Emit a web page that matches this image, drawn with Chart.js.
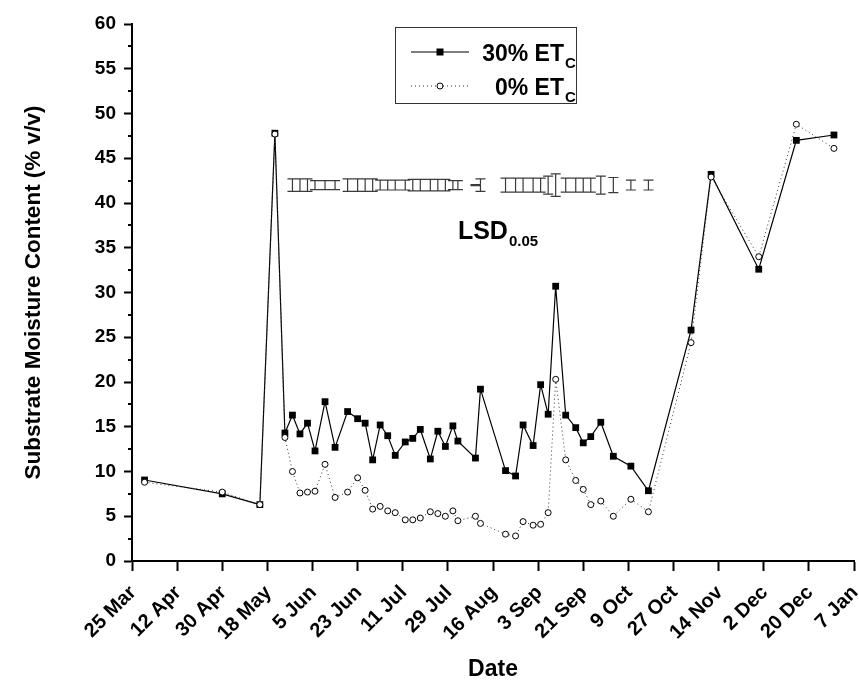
<!DOCTYPE html>
<html>
<head>
<meta charset="utf-8">
<title>Substrate moisture</title>
<script src="https://cdn.jsdelivr.net/npm/chart.js@4.4.0/dist/chart.umd.min.js"></script>
<style>
  html, body { margin: 0; padding: 0; background: #fff; }
  #wrap { width: 859px; height: 680px; }
</style>
</head>
<body>
<div id="wrap"><canvas id="moisture-chart" width="859" height="680"></canvas></div>
<script>
// sampling dates (season runs from 25 Mar into January)
const startDate = '2009-03-25';
const sampleDates = [
  '2009-03-30', '2009-04-30', '2009-05-15', '2009-05-21', '2009-05-25', '2009-05-28',
  '2009-05-31', '2009-06-03', '2009-06-06', '2009-06-10', '2009-06-14', '2009-06-19',
  '2009-06-23', '2009-06-26', '2009-06-29', '2009-07-02', '2009-07-05', '2009-07-08',
  '2009-07-12', '2009-07-15', '2009-07-18', '2009-07-22', '2009-07-25', '2009-07-28',
  '2009-07-31', '2009-08-02', '2009-08-09', '2009-08-11', '2009-08-21', '2009-08-25',
  '2009-08-28', '2009-09-01', '2009-09-04', '2009-09-07', '2009-09-10', '2009-09-14',
  '2009-09-18', '2009-09-21', '2009-09-24', '2009-09-28', '2009-10-03', '2009-10-10',
  '2009-10-17', '2009-11-03', '2009-11-11', '2009-11-30', '2009-12-15', '2009-12-30'
];

// substrate moisture, % v/v
const et30 = [
  9.05, 7.5, 6.3, 47.8, 14.3, 16.3,
  14.2, 15.4, 12.3, 17.8, 12.7, 16.7,
  15.9, 15.4, 11.3, 15.2, 14.0, 11.8,
  13.3, 13.7, 14.7, 11.4, 14.5, 12.8,
  15.1, 13.4, 11.5, 19.2, 10.1, 9.5,
  15.2, 12.9, 19.7, 16.4, 30.7, 16.3,
  14.9, 13.2, 13.9, 15.5, 11.7, 10.6,
  7.85, 25.8, 43.2, 32.6, 47.0, 47.6
];
const et0 = [
  8.8, 7.7, 6.3, 47.7, 13.8, 10.0,
  7.6, 7.7, 7.8, 10.8, 7.1, 7.7,
  9.3, 7.9, 5.8, 6.1, 5.6, 5.4,
  4.6, 4.6, 4.8, 5.5, 5.3, 5.0,
  5.6, 4.5, 5.0, 4.2, 3.0, 2.8,
  4.4, 4.0, 4.1, 5.4, 20.3, 11.3,
  9.0, 8.0, 6.3, 6.7, 5.0, 6.9,
  5.5, 24.4, 42.9, 34.0, 48.8, 46.1
];

// LSD(0.05) for each date, drawn as bars around lsdLevel
const lsd = [
  null, null, null, null, null, 1.4,
  1.4, 1.4, 1.0, 1.0, 1.0, 1.4,
  1.4, 1.4, 1.4, 1.1, 1.1, 1.1,
  1.1, 1.3, 1.3, 1.3, 1.3, 1.3,
  1.0, 1.0, 0.1, 1.4, 1.55, 1.55,
  1.55, 1.55, 1.55, 2.0, 2.5, 1.55,
  1.55, 1.55, 1.55, 2.0, 1.7, 1.1,
  1.1, null, null, null, null, null
];
const lsdLevel = 42;

const tickLabels = [
  '25 Mar', '12 Apr', '30 Apr', '18 May', '5 Jun', '23 Jun', '11 Jul', '29 Jul', '16 Aug',
  '3 Sep', '21 Sep', '9 Oct', '27 Oct', '14 Nov', '2 Dec', '20 Dec', '7 Jan'
];
const tickStep = 18;

const FONT = 'Arial, "Liberation Sans", Helvetica, sans-serif';
const DAY = 86400000;
const dayNums = sampleDates.map(d => Math.round((Date.parse(d) - Date.parse(startDate)) / DAY));

function drawSubText(ctx, x, y, main, sub, size, subSize, align) {
  ctx.font = `bold ${size}px ${FONT}`;
  const w = ctx.measureText(main).width;
  const left = align === 'right' ? x - w : x;
  ctx.textAlign = 'left';
  ctx.textBaseline = 'alphabetic';
  ctx.fillText(main, left, y);
  ctx.font = `bold ${subSize}px ${FONT}`;
  ctx.fillText(sub, left + w + 1, y + subSize * 0.45);
}

// LSD bars, minor ticks, LSD label and the legend box
const extras = {
  id: 'extras',
  afterDraw(chart) {
    const { ctx, scales: { x, y }, chartArea } = chart;
    ctx.save();

    // minor ticks on the y axis
    ctx.strokeStyle = '#000';
    ctx.lineWidth = 2;
    ctx.beginPath();
    for (let v = 2.5; v < 60; v += 5) {
      const py = Math.round(y.getPixelForValue(v));
      ctx.moveTo(chartArea.left - 4, py);
      ctx.lineTo(chartArea.left, py);
    }
    ctx.stroke();

    // LSD bars
    ctx.strokeStyle = '#3a3a3a';
    ctx.lineWidth = 1.2;
    ctx.beginPath();
    lsd.forEach((v, i) => {
      if (v == null) return;
      const px = x.getPixelForValue(dayNums[i]);
      const top = y.getPixelForValue(lsdLevel + v / 2);
      const bot = y.getPixelForValue(lsdLevel - v / 2);
      ctx.moveTo(px, top); ctx.lineTo(px, bot);
      ctx.moveTo(px - 5, top); ctx.lineTo(px + 5, top);
      ctx.moveTo(px - 5, bot); ctx.lineTo(px + 5, bot);
    });
    ctx.stroke();

    ctx.fillStyle = '#000';
    drawSubText(ctx, x.getPixelForValue(130), y.getPixelForValue(36), 'LSD', '0.05', 25, 15, 'left');

    // legend
    ctx.strokeStyle = '#333';
    ctx.lineWidth = 1;
    ctx.strokeRect(395.5, 27.5, 181, 76);

    ctx.strokeStyle = '#000';
    ctx.lineWidth = 1.2;
    ctx.beginPath();
    ctx.moveTo(411, 52); ctx.lineTo(469, 52);
    ctx.stroke();
    ctx.fillRect(436.5, 48.5, 7, 7);

    ctx.strokeStyle = '#333';
    ctx.lineWidth = 1;
    ctx.setLineDash([1, 3]);
    ctx.beginPath();
    ctx.moveTo(411, 86); ctx.lineTo(469, 86);
    ctx.stroke();
    ctx.setLineDash([]);
    ctx.fillStyle = '#fff';
    ctx.strokeStyle = '#000';
    ctx.beginPath();
    ctx.arc(440, 86, 3, 0, Math.PI * 2);
    ctx.fill();
    ctx.stroke();

    ctx.fillStyle = '#000';
    drawSubText(ctx, 564, 61, '30% ET', 'C', 23, 15, 'right');
    drawSubText(ctx, 564, 95, '0% ET', 'C', 23, 15, 'right');

    ctx.restore();
  }
};

const ctx = document.getElementById('moisture-chart').getContext('2d');
new Chart(ctx, {
  type: 'line',
  data: {
    datasets: [{
      label: '30% ETc',
      data: dayNums.map((d, i) => ({ x: d, y: et30[i] })),
      borderColor: '#000',
      borderWidth: 1.2,
      pointStyle: 'rect',
      pointRadius: 4.8,
      pointBackgroundColor: '#000',
      pointBorderWidth: 0,
      tension: 0,
      order: 2
    }, {
      label: '0% ETc',
      data: dayNums.map((d, i) => ({ x: d, y: et0[i] })),
      borderColor: '#333',
      borderWidth: 1,
      borderDash: [1, 3],
      pointStyle: 'circle',
      pointRadius: 3,
      pointBackgroundColor: '#fff',
      pointBorderColor: '#000',
      pointBorderWidth: 1,
      tension: 0,
      order: 1
    }]
  },
  options: {
    responsive: false,
    animation: false,
    devicePixelRatio: 1,
    layout: { padding: { top: 24, right: 3, left: 0, bottom: 0 } },
    plugins: {
      legend: { display: false },
      tooltip: { enabled: false }
    },
    scales: {
      x: {
        type: 'linear',
        min: 0,
        max: tickStep * (tickLabels.length - 1),
        border: { color: '#000', width: 2 },
        grid: { drawOnChartArea: false, tickLength: 10, tickWidth: 2, tickColor: '#000' },
        ticks: {
          stepSize: tickStep,
          autoSkip: false,
          minRotation: 45,
          maxRotation: 45,
          padding: 10,
          labelOffset: 1,
          color: '#000',
          font: { family: FONT, size: 20, weight: 'bold' },
          callback: v => tickLabels[Math.round(v / tickStep)]
        },
        title: {
          display: true,
          text: 'Date',
          color: '#000',
          font: { family: FONT, size: 23, weight: 'bold' },
          padding: { top: 0, bottom: -3 }
        },
        afterFit: s => {
          s.height = 119;
          s.paddingLeft = 0;
          s.paddingRight = 0;
        }
      },
      y: {
        min: 0,
        max: 60,
        border: { color: '#000', width: 2 },
        grid: { drawOnChartArea: false, tickLength: 8, tickWidth: 2, tickColor: '#000' },
        ticks: {
          stepSize: 5,
          padding: 8,
          color: '#000',
          font: { family: FONT, size: 19, weight: 'bold' }
        },
        title: {
          display: true,
          text: 'Substrate Moisture Content (% v/v)',
          color: '#000',
          font: { family: FONT, size: 22.5, weight: 'bold' },
          padding: { top: 20, bottom: 0 }
        },
        afterFit: s => { s.width = 132; }
      }
    }
  },
  plugins: [extras]
});
</script>
</body>
</html>
